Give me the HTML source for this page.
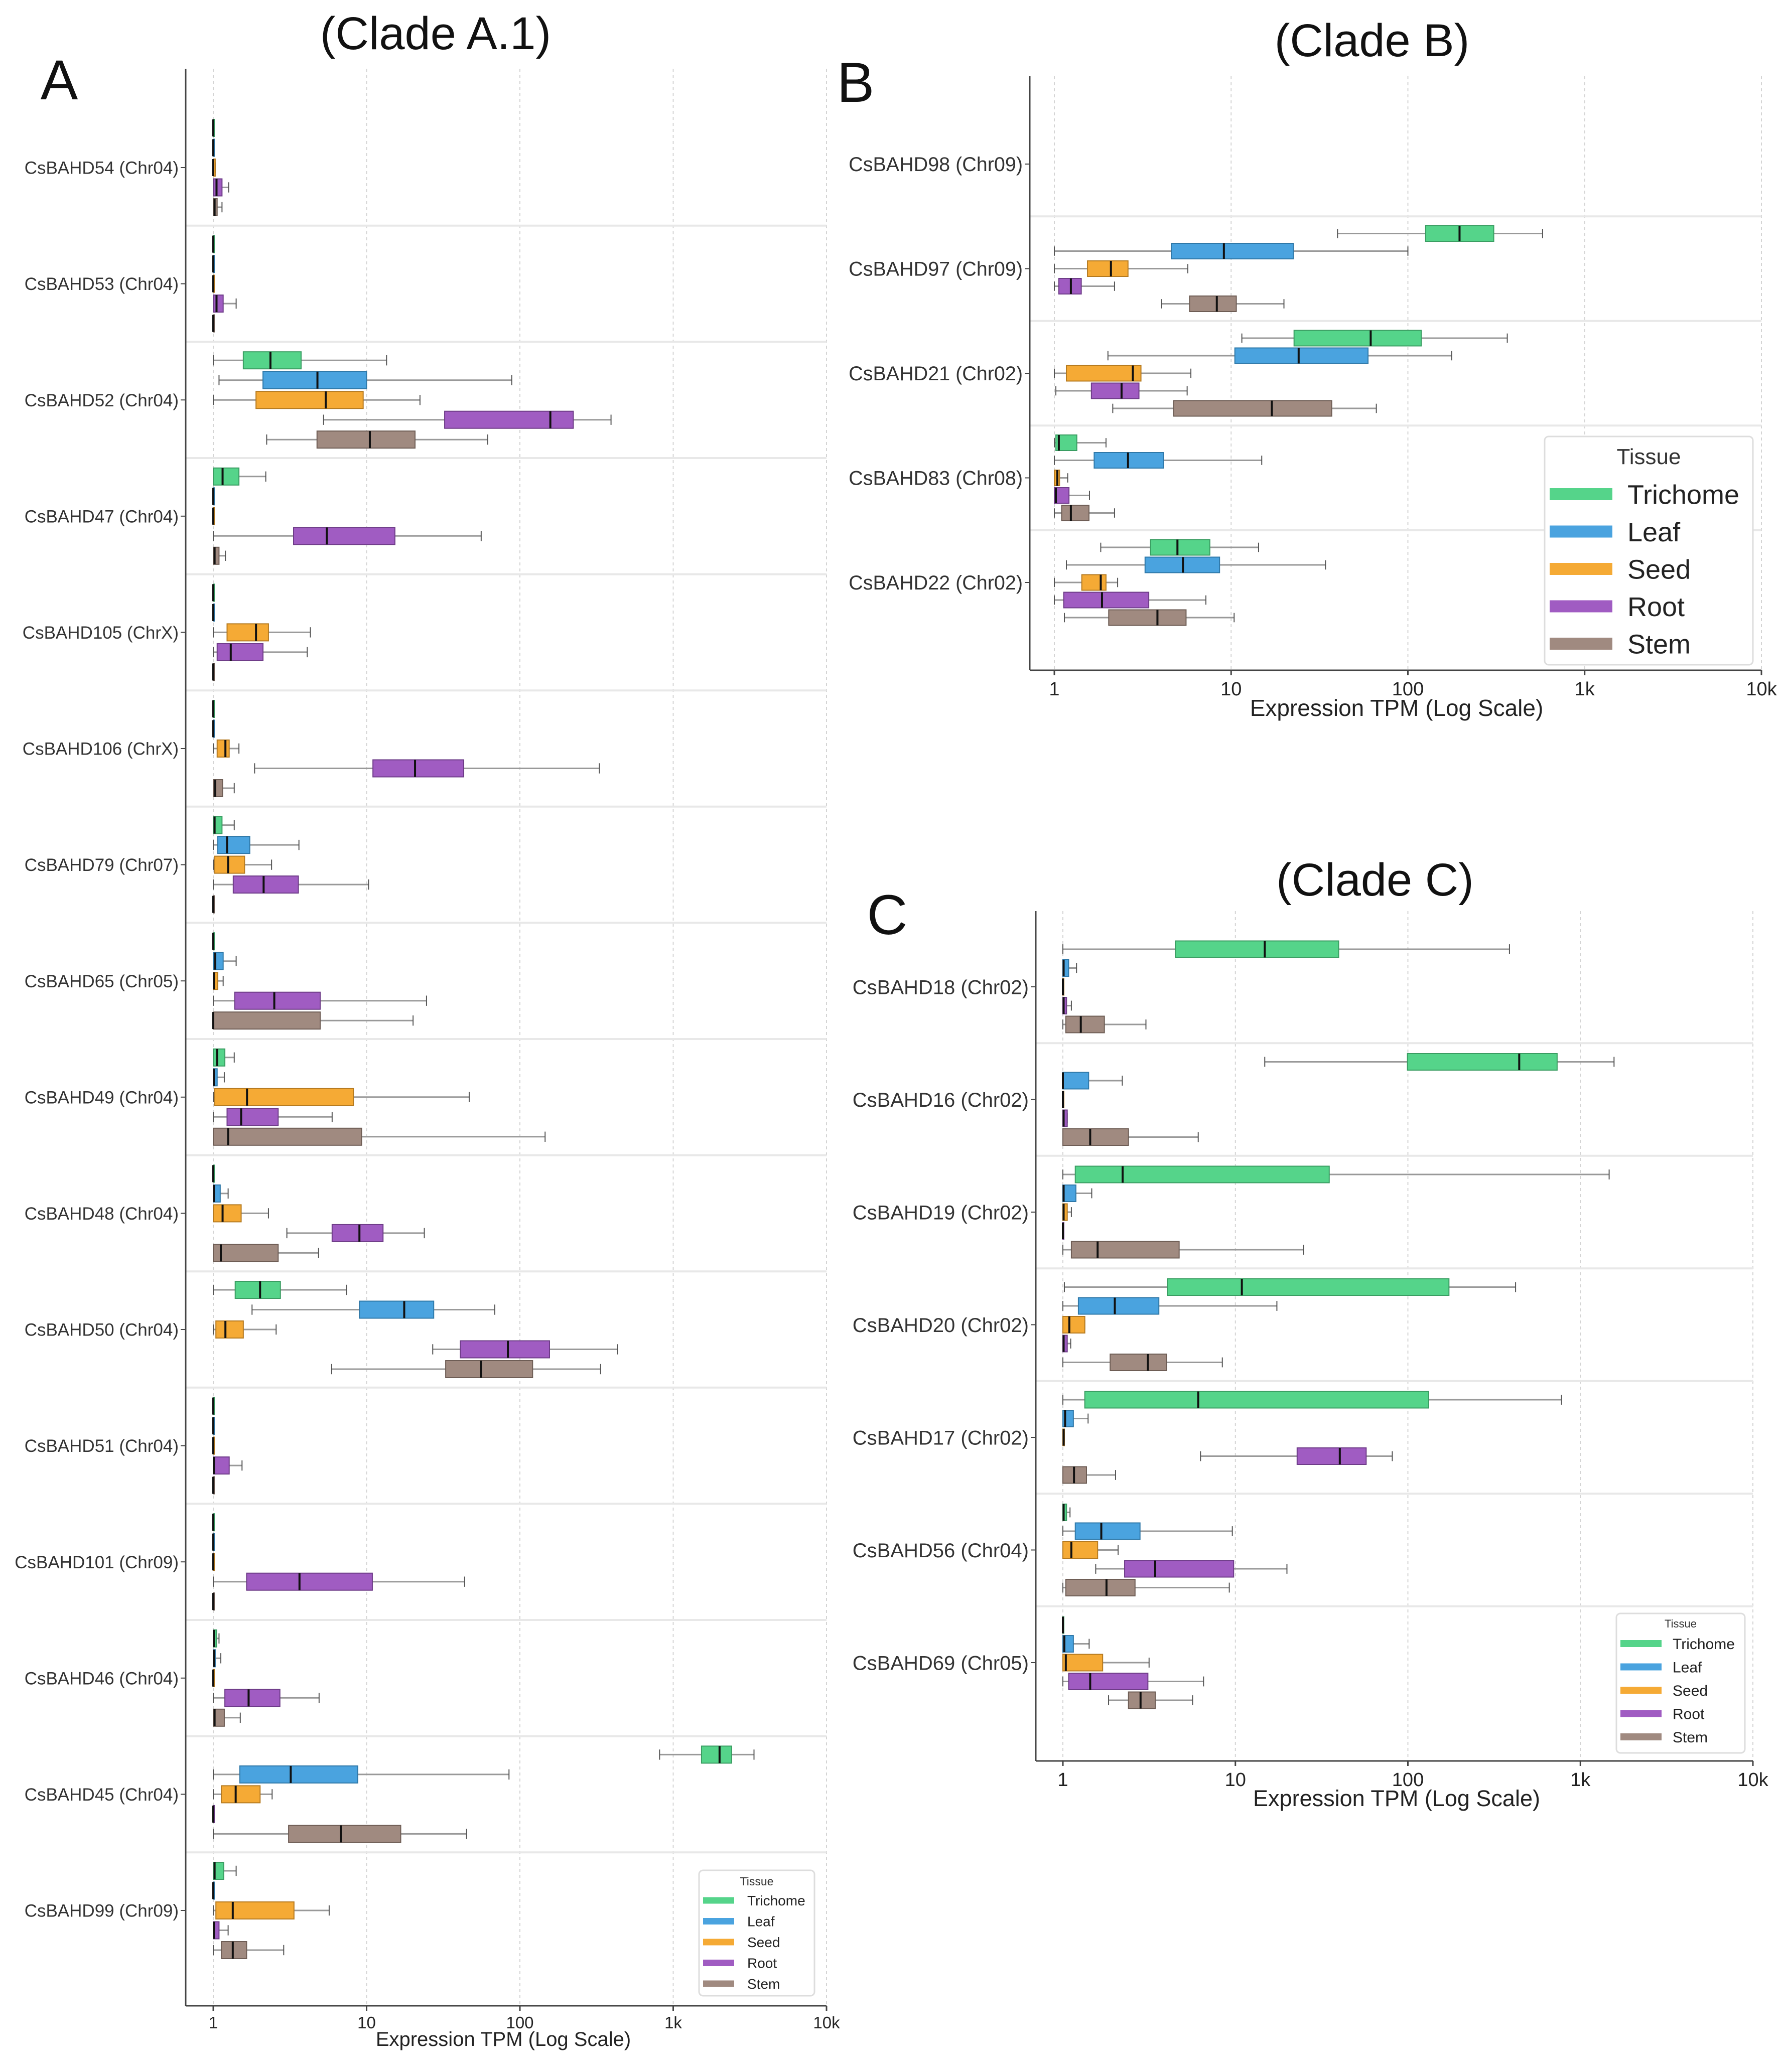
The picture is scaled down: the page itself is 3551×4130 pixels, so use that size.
<!DOCTYPE html>
<html><head><meta charset="utf-8"><style>
html,body{margin:0;padding:0;background:#fff;}
svg{display:block;font-family:"Liberation Sans",sans-serif;}
</style></head><body>
<svg id="fig" width="3551" height="4130" viewBox="0 0 3551 4130" xmlns="http://www.w3.org/2000/svg">
<rect x="0" y="0" width="3551" height="4130" fill="#fff"/>
</svg>
<script>
// ---------- DATA (TPM: [whiskerLow, q1, median, q3, whiskerHigh]) ----------
const tissues = ["Trichome","Leaf","Seed","Root","Stem"];
const tickLabels = ["1","10","100","1k","10k"];
const tickValues = [1,10,100,1000,10000];

const genesA = ["CsBAHD54 (Chr04)","CsBAHD53 (Chr04)","CsBAHD52 (Chr04)","CsBAHD47 (Chr04)","CsBAHD105 (ChrX)","CsBAHD106 (ChrX)","CsBAHD79 (Chr07)","CsBAHD65 (Chr05)","CsBAHD49 (Chr04)","CsBAHD48 (Chr04)","CsBAHD50 (Chr04)","CsBAHD51 (Chr04)","CsBAHD101 (Chr09)","CsBAHD46 (Chr04)","CsBAHD45 (Chr04)","CsBAHD99 (Chr09)"];
const trichomeA = [[1,1,1,1,1],[1,1,1,1,1],[1,1.57,2.36,3.74,13.5],[1,1,1.15,1.47,2.2],[1,1,1,1,1],[1,1,1,1,1],[1,1,1.02,1.14,1.37],[1,1,1,1.01,1.01],[1,1,1.06,1.19,1.37],[1,1,1,1,1],[1,1.39,2.02,2.74,7.4],[1,1,1,1,1],[1,1,1,1,1],[1,1,1.01,1.05,1.09],[815,1530,2006,2404,3365],[1,1,1.02,1.17,1.41]];
const leafA = [[1,1,1,1,1],[1,1,1,1,1],[1.09,2.11,4.78,10,88.5],[1,1,1,1,1],[1,1,1,1,1],[1,1,1,1,1],[1,1.07,1.23,1.73,3.62],[1,1,1.03,1.16,1.41],[1,1,1.01,1.06,1.18],[1,1,1.01,1.11,1.25],[1.79,8.98,17.6,27.4,68.6],[1,1,1,1,1],[1,1,1,1,1],[1,1,1.01,1.03,1.12],[1,1.49,3.2,8.76,84.9],[1,1,1,1,1]];
const seedA = [[1,1,1,1.03,1.03],[1,1,1,1,1],[1,1.9,5.41,9.5,22.3],[1,1,1,1,1],[1,1.23,1.9,2.29,4.3],[1,1.06,1.2,1.27,1.47],[1,1.02,1.25,1.6,2.4],[1,1,1.01,1.07,1.16],[1,1.02,1.66,8.2,46.7],[1,1,1.15,1.52,2.29],[1,1.04,1.2,1.57,2.57],[1,1,1,1,1],[1,1,1,1,1],[1,1,1,1,1],[1,1.13,1.4,2.02,2.42],[1,1.04,1.34,3.36,5.7]];
const rootA = [[1,1,1.05,1.14,1.26],[1,1,1.05,1.16,1.41],[5.24,32.3,158,223,393],[1,3.34,5.5,15.3,55.9],[1,1.06,1.3,2.11,4.1],[1.86,11,20.7,43,330],[1,1.35,2.13,3.59,10.3],[1,1.38,2.5,4.98,24.6],[1,1.23,1.52,2.65,5.96],[3.02,5.96,8.98,12.8,23.8],[27,40.9,83.5,156,433],[1,1,1.01,1.27,1.54],[1,1.65,3.65,10.9,43.6],[1,1.19,1.7,2.72,4.9],[1,1,1,1,1],[1,1,1.01,1.09,1.25]];
const stemA = [[1,1,1.02,1.06,1.14],[1,1,1,1,1],[2.23,4.75,10.5,20.7,61.7],[1,1,1.02,1.09,1.2],[1,1,1,1,1],[1,1,1.03,1.15,1.37],[1,1,1,1,1],[1,1,1,4.98,20.1],[1,1,1.25,9.28,146],[1,1,1.12,2.65,4.86],[5.92,32.8,55.9,121,336],[1,1,1,1,1],[1,1,1,1,1],[1,1,1.02,1.18,1.5],[1,3.1,6.8,16.7,44.9],[1,1.13,1.34,1.65,2.88]];

const genesB = ["CsBAHD98 (Chr09)","CsBAHD97 (Chr09)","CsBAHD21 (Chr02)","CsBAHD83 (Chr08)","CsBAHD22 (Chr02)"];
const trichomeB = [null,[40,126,196,306,578],[11.5,22.7,61.6,119,365],[1,1.02,1.06,1.34,1.96],[1.83,3.5,4.97,7.58,14.3]];
const leafB = [null,[1,4.59,9.1,22.5,100],[2.01,10.5,24.1,59.5,177],[1,1.68,2.61,4.14,14.9],[1.17,3.26,5.34,8.6,34.2]];
const seedB = [null,[1,1.54,2.09,2.61,5.69],[1,1.17,2.78,3.09,5.92],[1,1,1.04,1.07,1.19],[1,1.43,1.83,1.96,2.28]];
const rootB = [null,[1,1.06,1.24,1.42,2.19],[1.02,1.62,2.4,3.01,5.64],[1,1,1.02,1.21,1.58],[1,1.13,1.86,3.42,7.2]];
const stemB = [null,[4.04,5.82,8.3,10.7,19.9],[2.14,4.73,17,37.1,66.3],[1,1.1,1.24,1.57,2.19],[1.14,2.03,3.83,5.56,10.4]];

const genesC = ["CsBAHD18 (Chr02)","CsBAHD16 (Chr02)","CsBAHD19 (Chr02)","CsBAHD20 (Chr02)","CsBAHD17 (Chr02)","CsBAHD56 (Chr04)","CsBAHD69 (Chr05)"];
const trichomeC = [[1,4.49,14.8,39.7,388],[14.8,99.4,442,733,1567],[1,1.18,2.22,35,1468],[1.02,4.04,10.9,173,421],[1,1.34,6.09,132,777],[1,1,1.01,1.05,1.1],[1,1,1,1,1]];
const leafC = [[1,1,1.01,1.08,1.2],[1,1,1,1.41,2.21],[1,1,1.01,1.19,1.47],[1,1.23,2,3.6,17.4],[1,1,1.03,1.15,1.4],[1,1.18,1.67,2.8,9.6],[1,1,1.02,1.15,1.42]];
const seedC = [[1,1,1,1,1],[1,1,1,1,1],[1,1,1.01,1.06,1.12],[1,1,1.09,1.34,1.34],[1,1,1.01,1.02,1.02],[1,1,1.12,1.59,2.09],[1,1,1.04,1.7,3.16]];
const rootC = [[1,1,1.01,1.05,1.12],[1,1,1.01,1.06,1.06],[1,1,1,1,1],[1,1,1.01,1.06,1.11],[6.28,22.8,40.3,57.3,81.2],[1.55,2.28,3.43,9.77,19.9],[1,1.08,1.44,3.11,6.54]];
const stemC = [[1,1.04,1.27,1.74,3.03],[1,1,1.44,2.4,6.09],[1,1.12,1.59,4.72,24.9],[1,1.88,3.11,4,8.4],[1,1,1.16,1.37,2.02],[1,1.04,1.79,2.62,9.22],[1.84,2.4,2.82,3.43,5.65]];

// ---------- RENDER ----------
const NS = "http://www.w3.org/2000/svg";
const svg = document.getElementById("fig");
const colors = {Trichome:"#55d48a",Leaf:"#4aa3df",Seed:"#f5aa35",Root:"#a05cc2",Stem:"#a08a80"};
const edges = {Trichome:"#3a9d62",Leaf:"#2f78a8",Seed:"#b57a20",Root:"#6e3c88",Stem:"#6e5d55"};

function mk(tag, attrs, parent) {
  const e = document.createElementNS(NS, tag);
  for (const k in attrs) e.setAttribute(k, attrs[k]);
  (parent || svg).appendChild(e);
  return e;
}
function txt(str, attrs, parent) {
  const e = mk("text", attrs, parent);
  e.textContent = str;
  return e;
}

function drawPanel(p) {
  const g = mk("g", {});
  
  
  const xs = v => p.x1 + Math.log10(Math.max(v, 1e-9)) * p.decade;
  const rowY = i => p.row0 + i * p.rowStep;
  tickValues.forEach((tv, i) => {
    const gl = mk("line", {x1: xs(tv), x2: xs(tv), y1: p.top, y2: p.axisY, stroke: "#d4d4d4", "stroke-width": 2, "stroke-dasharray": "6,6"}, g);
    
    
  });
  for (let i = 0; i < p.genes.length - 1; i++) {
    const y = rowY(i) + p.rowStep / 2;
    const sl = mk("line", {x1: p.spineX, x2: xs(10000), y1: y, y2: y, stroke: "#e8e8e8", "stroke-width": 4}, g);
    
    
  }
  const sp = mk("line", {x1: p.spineX, x2: p.spineX, y1: p.top, y2: p.axisY, stroke: "#444", "stroke-width": 3}, g);
  
  
  const ax = mk("line", {x1: p.spineX, x2: xs(10000), y1: p.axisY, y2: p.axisY, stroke: "#444", "stroke-width": 3}, g);
  
  
  tickValues.forEach((tv, i) => {
    mk("line", {x1: xs(tv), x2: xs(tv), y1: p.axisY, y2: p.axisY + 10, stroke: "#444", "stroke-width": 3}, g);
    const t = txt(tickLabels[i], {x: xs(tv), y: p.axisY + p.tickFs + 12, "font-size": p.tickFs, "text-anchor": "middle", fill: "#222"}, g);
    
    
  });
  const xl = txt("Expression TPM (Log Scale)", {x: p.xlabelX, y: p.xlabelY, "font-size": p.xlabelFs, "text-anchor": "middle", fill: "#222"}, g);
  
  
  p.genes.forEach((name, i) => {
    mk("line", {x1: p.spineX - 10, x2: p.spineX, y1: rowY(i), y2: rowY(i), stroke: "#444", "stroke-width": 2}, g);
    const t = txt(name, {x: p.spineX - 14, y: rowY(i) + p.labelFs * 0.36, "font-size": p.labelFs, "text-anchor": "end", fill: "#333"}, g);
    
    
  });
  const series = [p.tri, p.leaf, p.seed, p.root, p.stem];
  series.forEach((arr, ti) => {
    const tname = tissues[ti];
    arr.forEach((d, gi) => {
      if (!d) return;
      const cy = rowY(gi) + (ti - 2) * p.slot;
      const h = p.boxH;
      const bg = mk("g", {}, g);
      
      
      const [wl, q1, md, q3, wh] = d;
      mk("line", {x1: xs(wl), x2: xs(q1), y1: cy, y2: cy, stroke: "#999", "stroke-width": 3}, bg);
      mk("line", {x1: xs(q3), x2: xs(wh), y1: cy, y2: cy, stroke: "#999", "stroke-width": 3}, bg);
      mk("line", {x1: xs(wl), x2: xs(wl), y1: cy - h * 0.3, y2: cy + h * 0.3, stroke: "#555", "stroke-width": 2}, bg);
      mk("line", {x1: xs(wh), x2: xs(wh), y1: cy - h * 0.3, y2: cy + h * 0.3, stroke: "#555", "stroke-width": 2}, bg);
      const w = Math.max(xs(q3) - xs(q1), 2);
      mk("rect", {x: xs(q1), y: cy - h / 2, width: w, height: h, fill: colors[tname], stroke: edges[tname], "stroke-width": 2}, bg);
      mk("line", {x1: xs(md), x2: xs(md), y1: cy - h / 2, y2: cy + h / 2, stroke: "#111", "stroke-width": 4}, bg);
    });
  });
  if (p.leg) {
    const L = p.leg;
    const lg = mk("g", {}, g);
    
    
    mk("rect", {x: L.x, y: L.y, width: L.w, height: L.h, rx: 8, fill: "#fff", stroke: "#ddd", "stroke-width": 3}, lg);
    txt("Tissue", {x: L.x + L.w / 2, y: L.y + L.titleY, "font-size": L.titleFs, "text-anchor": "middle", fill: "#333"}, lg);
    tissues.forEach((t, i) => {
      const yy = L.y + L.firstY + i * L.step;
      const e = mk("rect", {x: L.x + L.sx, y: yy - L.swH / 2, width: L.swW, height: L.swH, fill: colors[t]}, lg);
      
      
      const tt = txt(t, {x: L.x + L.sx + L.swW + L.gap, y: yy + L.fs * 0.36, "font-size": L.fs, fill: "#222"}, lg);
      
      
    });
  }
  const ti = txt(p.title, {x: p.titleX, y: p.titleY, "font-size": 92, "text-anchor": "middle", fill: "#111"}, g);
  
  
  const le = txt(p.letter, {x: p.letterX, y: p.letterY, "font-size": 112, "text-anchor": "middle", fill: "#111"}, g);
  
  
}

drawPanel({name: "panel-a", genes: genesA, tri: trichomeA, leaf: leafA, seed: seedA, root: rootA, stem: stemA,
  x1: 425, decade: 305.5, spineX: 370, top: 137, axisY: 3998, row0: 334, rowStep: 231.6, slot: 39.5, boxH: 34,
  labelFs: 35, tickFs: 33, xlabelFs: 40, xlabelX: 1003, xlabelY: 4078,
  title: "(Clade A.1)", titleX: 868, titleY: 98, letter: "A", letterX: 118, letterY: 198,
  leg: {x: 1393, y: 3728, w: 230, h: 250, titleY: 30, titleFs: 23, firstY: 60, step: 41.5, sx: 8, swW: 62, swH: 13, gap: 26, fs: 28}});

drawPanel({name: "panel-b", genes: genesB, tri: trichomeB, leaf: leafB, seed: seedB, root: rootB, stem: stemB,
  x1: 2101, decade: 352.25, spineX: 2052, top: 152, axisY: 1336, row0: 327, rowStep: 208.5, slot: 35, boxH: 31,
  labelFs: 39.5, tickFs: 38, xlabelFs: 46, xlabelX: 2783, xlabelY: 1427,
  title: "(Clade B)", titleX: 2734, titleY: 112, letter: "B", letterX: 1705, letterY: 203,
  leg: {x: 3078, y: 870, w: 415, h: 455, titleY: 55, titleFs: 44, firstY: 115, step: 74.5, sx: 10, swW: 125, swH: 24, gap: 30, fs: 54}});

drawPanel({name: "panel-c", genes: genesC, tri: trichomeC, leaf: leafC, seed: seedC, root: rootC, stem: stemC,
  x1: 2118, decade: 343.75, spineX: 2064, top: 1816, axisY: 3510, row0: 1967, rowStep: 224.5, slot: 37.5, boxH: 33,
  labelFs: 40, tickFs: 38, xlabelFs: 45, xlabelX: 2783, xlabelY: 3600,
  title: "(Clade C)", titleX: 2740, titleY: 1785, letter: "C", letterX: 1768, letterY: 1862,
  leg: {x: 3221, y: 3216, w: 256, h: 278, titleY: 28, titleFs: 22, firstY: 60, step: 46.5, sx: 8, swW: 82, swH: 14, gap: 22, fs: 30}});
</script>
</body></html>
